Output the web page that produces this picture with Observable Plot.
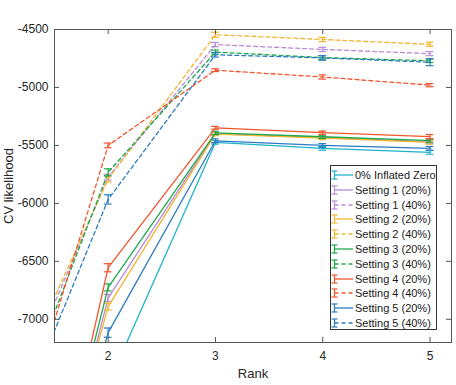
<!DOCTYPE html>
<html>
<head>
<meta charset="utf-8">
<script src="https://cdn.jsdelivr.net/npm/d3@7"></script>
<script src="https://cdn.jsdelivr.net/npm/@observablehq/plot@0.6"></script>
<style>
  html, body { margin: 0; padding: 0; background: #fff; }
  #wrap { position: relative; width: 456px; height: 385px; font-family: "Liberation Sans", Arial, sans-serif; }
  #legend { position: absolute; left: 330px; top: 165px; width: 107px; height: 165px; border: 1px solid #333; background: #fff; box-sizing: border-box; }
  .row { position: absolute; left: 0; height: 14px; font-size: 11px; color: #1a1a1a; white-space: nowrap; }
  .row svg { position: absolute; left: 0; top: 0; }
  .row span { position: absolute; left: 24px; top: 0; line-height: 14px; }
</style>
</head>
<body>
<div id="wrap"></div>
<script>
// ---- data ----
const ranks = [1, 2, 3, 4, 5];
const xTicks = [2, 3, 4, 5];
const yTicks = [-7000, -6500, -6000, -5500, -5000, -4500];

const seriesNames = [
  "0% Inflated Zero",
  "Setting 1 (20%)", "Setting 1 (40%)",
  "Setting 2 (20%)", "Setting 2 (40%)",
  "Setting 3 (20%)", "Setting 3 (40%)",
  "Setting 4 (20%)", "Setting 4 (40%)",
  "Setting 5 (20%)", "Setting 5 (40%)"
];
const seriesColors = [
  "#1fb3ca",
  "#b98ad8", "#b98ad8",
  "#f4b42f", "#f4b42f",
  "#1fa84c", "#1fa84c",
  "#f2552c", "#f2552c",
  "#2b7bc2", "#2b7bc2"
];
const seriesDashed = [false, false, true, false, true, false, true, false, true, false, true];

const valsZero   = [-10900, -7560, -5474, -5525, -5560];
const valsS1_20  = [-10450, -6815, -5398, -5432, -5468];
const valsS1_40  = [-7950, -5773, -4630, -4672, -4708];
const valsS2_20  = [-10250, -6890, -5402, -5436, -5474];
const valsS2_40  = [-7830, -5790, -4545, -4586, -4628];
const valsS3_20  = [-10400, -6725, -5392, -5425, -5458];
const valsS3_40  = [-8150, -5732, -4695, -4742, -4770];
const valsS4_20  = [-10650, -6555, -5348, -5390, -5424];
const valsS4_40  = [-8520, -5500, -4851, -4910, -4980];
const valsS5_20  = [-10450, -7115, -5460, -5500, -5525];
const valsS5_40  = [-8230, -5966, -4718, -4745, -4782];

const errZero  = [60, 50, 15, 16, 16];
const errS1_20 = [60, 30, 14, 14, 16];
const errS1_40 = [40, 25, 18, 18, 18];
const errS2_20 = [60, 30, 14, 14, 16];
const errS2_40 = [40, 25, 22, 18, 18];
const errS3_20 = [60, 30, 14, 14, 14];
const errS3_40 = [40, 30, 18, 15, 15];
const errS4_20 = [60, 35, 12, 14, 18];
const errS4_40 = [40, 20, 12, 18, 14];
const errS5_20 = [60, 40, 16, 16, 16];
const errS5_40 = [40, 40, 20, 20, 30];

const seriesValues = [valsZero, valsS1_20, valsS1_40, valsS2_20, valsS2_40, valsS3_20, valsS3_40, valsS4_20, valsS4_40, valsS5_20, valsS5_40];
const seriesErrors = [errZero, errS1_20, errS1_40, errS2_20, errS2_40, errS3_20, errS3_40, errS4_20, errS4_40, errS5_20, errS5_40];

// ---- layout ----
const W = 456, H = 385, mL = 54, mR = 5, mT = 29, mB = 43;
const fw = W - mL - mR, fh = H - mT - mB;
const cap = 0.036;
const axisColor = "#555";

const marks = [];
seriesNames.forEach((name, i) => {
  const data = ranks.map((r, j) => ({rank: r, v: seriesValues[i][j], e: seriesErrors[i][j]}));
  const col = seriesColors[i];
  marks.push(Plot.line(data, {x: "rank", y: "v", stroke: col, strokeWidth: 1.3,
    strokeDasharray: seriesDashed[i] ? "4,3" : null, clip: true}));
  marks.push(Plot.ruleX(data, {x: "rank", y1: d => d.v - d.e, y2: d => d.v + d.e, stroke: col, strokeWidth: 1.2, clip: true}));
  marks.push(Plot.ruleY(data, {y: d => d.v - d.e, x1: d => d.rank - cap, x2: d => d.rank + cap, stroke: col, strokeWidth: 1.2, clip: true}));
  marks.push(Plot.ruleY(data, {y: d => d.v + d.e, x1: d => d.rank - cap, x2: d => d.rank + cap, stroke: col, strokeWidth: 1.2, clip: true}));
});

const chart = Plot.plot({
  width: W, height: H,
  marginLeft: mL, marginRight: mR, marginTop: mT, marginBottom: mB,
  style: {fontFamily: "'Liberation Sans', Arial, sans-serif", fontSize: "12px", color: "#262626", background: "white"},
  x: {domain: [1.5, 5.2], ticks: xTicks, tickSize: 0, tickPadding: 9, label: null, tickFormat: d => String(d)},
  y: {domain: [-7200, -4500], ticks: yTicks, tickSize: 0, tickPadding: 6, label: null, tickFormat: d => String(d)},
  marks: [
    ...marks,
    Plot.frame({stroke: axisColor, strokeWidth: 1}),
    Plot.tickX(xTicks, {x: d => d, insetTop: fh - 5, stroke: axisColor}),
    Plot.tickX(xTicks, {x: d => d, insetBottom: fh - 5, stroke: axisColor}),
    Plot.tickY(yTicks, {y: d => d, insetRight: fw - 5, stroke: axisColor}),
    Plot.tickY(yTicks, {y: d => d, insetLeft: fw - 5, stroke: axisColor}),
    Plot.text(["Rank"], {text: d => d, frameAnchor: "bottom", lineAnchor: "middle", dy: 31, fontSize: 13, fill: "#262626"}),
    Plot.text(["CV likelihood"], {text: d => d, frameAnchor: "left", textAnchor: "middle", lineAnchor: "middle", dx: -46, rotate: -90, fontSize: 13, fill: "#262626"})
  ]
});

const wrap = document.getElementById("wrap");
wrap.appendChild(chart);

// ---- legend ----
const legend = document.createElement("div");
legend.id = "legend";
seriesNames.forEach((name, i) => {
  const row = document.createElement("div");
  row.className = "row";
  row.style.top = (2 + i * 14.8) + "px";
  row.style.width = "105px";
  const col = seriesColors[i];
  const dash = seriesDashed[i] ? ' stroke-dasharray="4,3"' : "";
  row.innerHTML =
    `<svg width="24" height="14">
       <line x1="3.5" x2="22" y1="7" y2="7" stroke="${col}" stroke-width="1.3"${dash}/>
       <line x1="3.5" x2="3.5" y1="3" y2="11" stroke="${col}" stroke-width="1.2"/>
       <line x1="0.5" x2="6.5" y1="3" y2="3" stroke="${col}" stroke-width="1.2"/>
       <line x1="0.5" x2="6.5" y1="11" y2="11" stroke="${col}" stroke-width="1.2"/>
     </svg><span>${name}</span>`;
  legend.appendChild(row);
});
wrap.appendChild(legend);
</script>
</body>
</html>
